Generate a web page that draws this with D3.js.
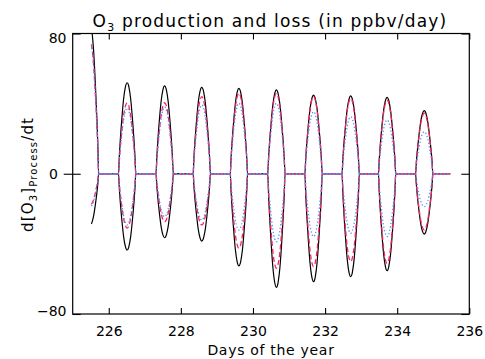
<!DOCTYPE html>
<html><head><meta charset="utf-8">
<script src="https://cdn.jsdelivr.net/npm/d3@7"></script>
<style>
body{margin:0;background:#fff;}
svg text{font-family:"DejaVu Sans",sans-serif;fill:#000;}
</style></head>
<body>
<svg id="c" width="485" height="359"></svg>
<script>
// ---- data ----
const xDomain = [225, 236];
const yDomain = [-80, 80];
const xTicks = [226, 228, 230, 232, 234, 236];
const yTicks = [-80, 0, 80];
const dataStart = 225.52, dataEnd = 235.47;
// centre (midday) of each daylight hump, in axis days
const peakDays = [225.48, 226.51, 227.55, 228.58, 229.61, 230.65, 231.68, 232.71, 233.72, 234.75];
// diurnal hump profile (offset from peak in days, relative value)
const profileOffset = [-0.24, -0.216, -0.192, -0.144, -0.096, -0.048, 0, 0.04, 0.048, 0.096, 0.144, 0.192, 0.216, 0.24];
const profileValue  = [0, 0.20, 0.36, 0.62, 0.83, 0.955, 1, 0.97, 0.955, 0.83, 0.62, 0.36, 0.20, 0];
// daily peak production / loss (ppbv/day)
const prodBlack = [86, 51.9, 50.1, 49.3, 48.7, 47.8, 44.9, 44.4, 43.6, 36.0];
const prodRed   = [76, 40.4, 40.5, 44.0, 45.9, 45.9, 44.0, 43.0, 42.0, 34.5];
const prodBlue  = [76, 37.5, 38.1, 39.2, 40.2, 40.2, 35.4, 32.5, 30.7, 24.0];
const lossBlack = [-29.5, -43.5, -36.5, -38.4, -52.6, -64.8, -61.6, -58.7, -55.3, -34.4];
const lossRed   = [-18.0, -31.0, -27.4, -29.2, -42.5, -53.9, -53.0, -50.1, -51.1, -32.1];
const lossBlue  = [-19.0, -29.2, -24.5, -26.4, -32.1, -38.8, -35.9, -34.0, -35.9, -18.8];

const series = [
  {vals: prodBlack, color: "#000000", dash: null, w: 1.2},
  {vals: lossBlack, color: "#000000", dash: null, w: 1.2},
  {vals: prodRed,   color: "#ff2060", dash: "5,3", w: 1.3},
  {vals: lossRed,   color: "#ff2060", dash: "5,3", w: 1.3},
  {vals: prodBlue,  color: "#4a94ff", dash: "1.3,2.2", w: 1.3},
  {vals: lossBlue,  color: "#4a94ff", dash: "1.3,2.2", w: 1.3}
];

function buildPoints(peaks) {
  const pts = [];
  peakDays.forEach((d, i) => {
    profileOffset.forEach((o, j) => {
      const t = d + o;
      if (t >= dataStart - 1e-9 && t <= dataEnd) pts.push([t, peaks[i] * profileValue[j]]);
    });
  });
  pts.push([dataEnd, 0]);
  return pts;
}

// ---- layout ----
const L = 72.7, R = 469.3, T = 33.5, B = 314;
const svg = d3.select("#c");
const x = d3.scaleLinear().domain(xDomain).range([L, R]);
const y = d3.scaleLinear().domain(yDomain).range([B, T]);

svg.append("defs").append("clipPath").attr("id", "clip")
  .append("rect").attr("x", L).attr("y", T).attr("width", R - L).attr("height", B - T);

const line = d3.line().x(d => x(d[0])).y(d => y(d[1])).curve(d3.curveMonotoneX);
const g = svg.append("g").attr("clip-path", "url(#clip)");
series.forEach(s => {
  g.append("path").attr("d", line(buildPoints(s.vals)))
    .attr("fill", "none").attr("stroke", s.color).attr("stroke-width", s.w)
    .attr("stroke-dasharray", s.dash).attr("stroke-linejoin", "round");
});

// frame
svg.append("rect").attr("x", L).attr("y", T).attr("width", R - L).attr("height", B - T)
  .attr("fill", "none").attr("stroke", "#000").attr("stroke-width", 1.2);

// axes (inward ticks)
const xb = svg.append("g").attr("transform", `translate(0,${B})`)
  .call(d3.axisBottom(x).tickValues(xTicks).tickSize(-6).tickPadding(12.5).tickFormat(d3.format("d")));
const xt = svg.append("g").attr("transform", `translate(0,${T})`)
  .call(d3.axisTop(x).tickValues(xTicks).tickSize(-6).tickFormat(""));
const yl = svg.append("g").attr("transform", `translate(${L},0)`)
  .call(d3.axisLeft(y).tickValues(yTicks).tickSize(-8).tickFormat(""));
const yr = svg.append("g").attr("transform", `translate(${R},0)`)
  .call(d3.axisRight(y).tickValues(yTicks).tickSize(-8).tickFormat(""));
[xb, xt, yl, yr].forEach(a => {
  a.select(".domain").remove();
  a.selectAll(".tick line").attr("stroke", "#000").attr("stroke-width", 1.1);
  a.selectAll("text").attr("font-size", 14).attr("font-family", "DejaVu Sans").attr("fill", "#000");
});
// zero tick on the left crosses the axis
yl.selectAll(".tick").filter(d => d === 0).select("line").attr("x1", -9);

// y tick labels
const yLabelPos = {"80": [66.5, T + 9], "0": [58, y(0) + 5], "-80": [66.5, B + 2]};
svg.append("g").selectAll("text").data(yTicks).join("text")
  .attr("x", d => yLabelPos[d][0]).attr("y", d => yLabelPos[d][1])
  .attr("text-anchor", "end").attr("font-size", 14)
  .text(d => d < 0 ? "\u2212" + Math.abs(d) : d);

// titles
const title = svg.append("text").attr("x", 270).attr("y", 27).attr("text-anchor", "middle")
  .attr("font-size", 17).attr("letter-spacing", 1.2);
title.append("tspan").text("O");
title.append("tspan").attr("font-size", 11).attr("dy", 4).text("3");
title.append("tspan").attr("dy", -4).text(" production and loss (in ppbv/day)");

svg.append("text").attr("x", 271).attr("y", 355).attr("text-anchor", "middle")
  .attr("font-size", 14).attr("letter-spacing", 0.7).text("Days of the year");

const yt = svg.append("text").attr("transform", "translate(33,175) rotate(-90)")
  .attr("x", -57).attr("text-anchor", "start").attr("font-size", 15)
  .attr("textLength", 114).attr("lengthAdjust", "spacing");
yt.append("tspan").text("d[O");
yt.append("tspan").attr("font-size", 10).attr("dy", 4).text("3");
yt.append("tspan").attr("dy", -4).text("]");
yt.append("tspan").attr("font-size", 10).attr("dy", 4).text("Process");
yt.append("tspan").attr("dy", -4).text("/dt");
</script>
</body></html>
